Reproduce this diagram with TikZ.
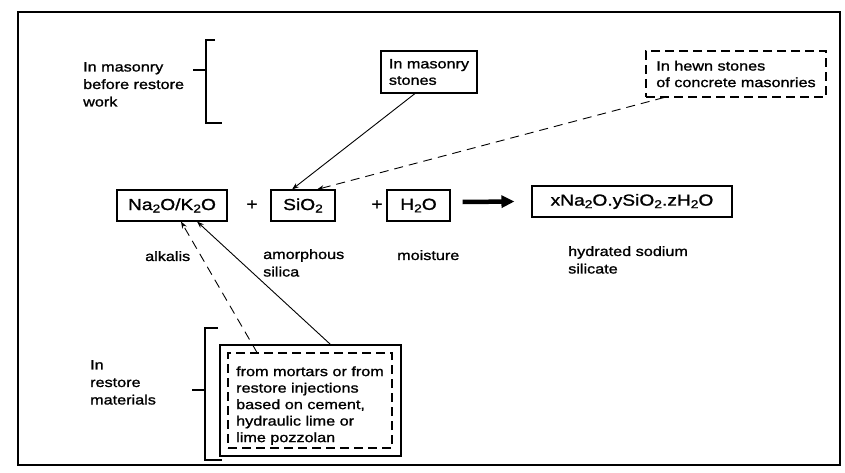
\documentclass[tikz,border=0pt]{standalone}
\usepackage{fontspec}
\setmainfont[FakeStretch=1.2,FakeBold=1.2]{Liberation Sans}
\usetikzlibrary{arrows.meta}
\newcommand\chsub[1]{\raisebox{-0.3ex}{\fontsize{11.5}{12}\selectfont #1}}
\begin{document}
\begin{tikzpicture}[x=1pt,y=-1pt,
  lbl/.style={font=\fontsize{13.5}{17.5}\selectfont, align=left, inner sep=0, anchor=north west},
  boxtxt/.style={font=\fontsize{13.5}{16.5}\selectfont, align=left, line width=1.1pt},
  chem/.style={draw, line width=1.1pt, font=\fontsize{16}{18}\selectfont, minimum height=31, inner sep=0},
  plus/.style={font=\fontsize{16}{18}\selectfont, inner sep=0},
  sarrow/.style={line width=0.9pt, -{Stealth[length=7pt,width=5pt]}},
  darrow/.style={line width=0.9pt, dash pattern=on 9pt off 6pt, -{Stealth[length=7pt,width=5pt]}},
  brk/.style={line width=1.1pt},
  dbox/.style={dash pattern=on 9pt off 5pt}
]
\useasboundingbox (0,0) rectangle (845,473);
% outer frame
\draw[line width=1.1pt] (18,12) rectangle (840,465);

% upper bracket
\draw[brk] (215,40) -- (206,40) -- (206,123) -- (222,123);
\draw[brk] (193,70) -- (206,70);
\node[lbl] (mas) at (83,62) {In masonry\\before restore\\work};

% top boxes
\node[boxtxt, draw, minimum width=96, minimum height=42] (ms) at (429,72) {In masonry\\stones};
\node[boxtxt, draw, dbox, minimum width=180, minimum height=46] (hs) at (736,74) {In hewn stones\\of concrete masonries};

% equation
\node[chem, minimum width=110] (na) at (172,205.5) {Na\chsub{2}O/K\chsub{2}O};
\node[plus] (p1) at (252,205) {+};
\node[chem, minimum width=64] (si) at (303,205.5) {SiO\chsub{2}};
\node[plus] (p2) at (377,205) {+};
\node[chem, minimum width=63] (hw) at (418.5,205.5) {H\chsub{2}O};
\node[chem, minimum width=200] (pr) at (632,201.5) {xNa\chsub{2}O.ySiO\chsub{2}.zH\chsub{2}O};
\draw[line width=4.5pt, -{Triangle[length=13pt,width=12pt]}] ([xshift=12pt,yshift=3.5pt]hw.east) -- ([xshift=-17pt]pr.west);

% labels
\node[lbl] (alk) at (145,251) {alkalis};
\node[lbl] (amo) at (263,249) {amorphous\\silica};
\node[lbl] (moi) at (397,250) {moisture};
\node[lbl] (hyd) at (568,246) {hydrated sodium\\silicate};

% lower bracket
\draw[brk] (218,328) -- (205,328) -- (205,460) -- (222,460);
\draw[brk] (192,390) -- (205,390);
\node[lbl] (inr) at (90,360) {In\\restore\\materials};

% lower boxes
\node[draw, line width=1.1pt, minimum width=181, minimum height=111, inner sep=0] (ob) at (310.5,400.5) {};
\node[boxtxt, draw, dbox, minimum width=164, minimum height=95, inner ysep=0] (ib) at (310,400.5)
  {\rule{0pt}{20pt}from mortars or from\\restore injections\\based on cement,\\hydraulic lime or\\lime pozzolan};

% connectors
\draw[sarrow] ([xshift=-14pt]ms.south) -- ([xshift=-11pt]si.north);
\draw[darrow] ([xshift=-72pt]hs.south) -- ([xshift=14pt]si.north);
\draw[darrow] ([xshift=-53pt]ib.north) -- ([xshift=9pt]na.south);
\draw[sarrow] ([xshift=20pt]ob.north) -- ([xshift=25pt]na.south);
\end{tikzpicture}
\end{document}
